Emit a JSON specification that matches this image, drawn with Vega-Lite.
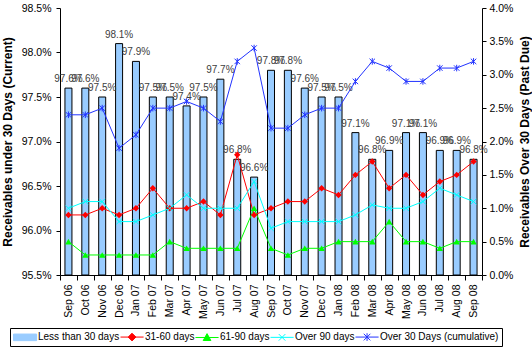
{
  "$schema": "https://vega.github.io/schema/vega-lite/v6.json",
  "autosize": {"type": "none"},
  "padding": {"left": 60, "top": 8, "right": 50, "bottom": 72},
  "width": 422,
  "height": 267,
  "background": "white",
  "config": {
    "view": {"stroke": null},
    "font": "Liberation Sans",
    "axis": {
      "domainColor": "black",
      "tickColor": "black",
      "labelColor": "black",
      "titleColor": "black",
      "labelFont": "Liberation Sans",
      "titleFont": "Liberation Sans",
      "labelFontSize": 10.5,
      "titleFontSize": 12,
      "titleFontWeight": "bold",
      "grid": false,
      "tickSize": 4
    },
    "legend": {
      "orient": "none",
      "legendX": -50,
      "legendY": 320,
      "direction": "horizontal",
      "columns": 5,
      "symbolSize": 121,
      "labelOffset": 13,
      "columnPadding": -2,
      "padding": 3,
      "strokeColor": "black",
      "fillColor": "white",
      "labelFont": "Liberation Sans",
      "labelFontSize": 10,
      "labelColor": "black"
    }
  },
  "data": {
    "values": [
      {"m": "Sep 06", "Less than 30 days": 0.976, "31-60 days": 0.009, "61-90 days": 0.005, "Over 90 days": 0.010, "Over 30 Days (cumulative)": 0.024},
      {"m": "Oct 06", "Less than 30 days": 0.976, "31-60 days": 0.009, "61-90 days": 0.003, "Over 90 days": 0.011, "Over 30 Days (cumulative)": 0.024},
      {"m": "Nov 06", "Less than 30 days": 0.975, "31-60 days": 0.010, "61-90 days": 0.003, "Over 90 days": 0.011, "Over 30 Days (cumulative)": 0.025},
      {"m": "Dec 06", "Less than 30 days": 0.981, "31-60 days": 0.009, "61-90 days": 0.003, "Over 90 days": 0.008, "Over 30 Days (cumulative)": 0.019},
      {"m": "Jan 07", "Less than 30 days": 0.979, "31-60 days": 0.010, "61-90 days": 0.003, "Over 90 days": 0.008, "Over 30 Days (cumulative)": 0.021},
      {"m": "Feb 07", "Less than 30 days": 0.975, "31-60 days": 0.013, "61-90 days": 0.003, "Over 90 days": 0.009, "Over 30 Days (cumulative)": 0.025},
      {"m": "Mar 07", "Less than 30 days": 0.975, "31-60 days": 0.010, "61-90 days": 0.005, "Over 90 days": 0.010, "Over 30 Days (cumulative)": 0.025},
      {"m": "Apr 07", "Less than 30 days": 0.974, "31-60 days": 0.010, "61-90 days": 0.004, "Over 90 days": 0.012, "Over 30 Days (cumulative)": 0.026},
      {"m": "May 07", "Less than 30 days": 0.975, "31-60 days": 0.011, "61-90 days": 0.004, "Over 90 days": 0.010, "Over 30 Days (cumulative)": 0.025},
      {"m": "Jun 07", "Less than 30 days": 0.977, "31-60 days": 0.009, "61-90 days": 0.004, "Over 90 days": 0.010, "Over 30 Days (cumulative)": 0.023},
      {"m": "Jul 07", "Less than 30 days": 0.968, "31-60 days": 0.018, "61-90 days": 0.004, "Over 90 days": 0.010, "Over 30 Days (cumulative)": 0.032},
      {"m": "Aug 07", "Less than 30 days": 0.966, "31-60 days": 0.009, "61-90 days": 0.010, "Over 90 days": 0.014, "Over 30 Days (cumulative)": 0.034},
      {"m": "Sep 07", "Less than 30 days": 0.978, "31-60 days": 0.010, "61-90 days": 0.004, "Over 90 days": 0.007, "Over 30 Days (cumulative)": 0.022},
      {"m": "Oct 07", "Less than 30 days": 0.978, "31-60 days": 0.011, "61-90 days": 0.003, "Over 90 days": 0.008, "Over 30 Days (cumulative)": 0.022},
      {"m": "Nov 07", "Less than 30 days": 0.976, "31-60 days": 0.011, "61-90 days": 0.004, "Over 90 days": 0.008, "Over 30 Days (cumulative)": 0.024},
      {"m": "Dec 07", "Less than 30 days": 0.975, "31-60 days": 0.013, "61-90 days": 0.004, "Over 90 days": 0.008, "Over 30 Days (cumulative)": 0.025},
      {"m": "Jan 08", "Less than 30 days": 0.975, "31-60 days": 0.012, "61-90 days": 0.005, "Over 90 days": 0.008, "Over 30 Days (cumulative)": 0.025},
      {"m": "Feb 08", "Less than 30 days": 0.971, "31-60 days": 0.015, "61-90 days": 0.005, "Over 90 days": 0.009, "Over 30 Days (cumulative)": 0.029},
      {"m": "Mar 08", "Less than 30 days": 0.968, "31-60 days": 0.017, "61-90 days": 0.005, "Over 90 days": 0.0105, "Over 30 Days (cumulative)": 0.032},
      {"m": "Apr 08", "Less than 30 days": 0.969, "31-60 days": 0.013, "61-90 days": 0.008, "Over 90 days": 0.010, "Over 30 Days (cumulative)": 0.031},
      {"m": "May 08", "Less than 30 days": 0.971, "31-60 days": 0.015, "61-90 days": 0.005, "Over 90 days": 0.010, "Over 30 Days (cumulative)": 0.029},
      {"m": "Jun 08", "Less than 30 days": 0.971, "31-60 days": 0.012, "61-90 days": 0.005, "Over 90 days": 0.011, "Over 30 Days (cumulative)": 0.029},
      {"m": "Jul 08", "Less than 30 days": 0.969, "31-60 days": 0.014, "61-90 days": 0.004, "Over 90 days": 0.013, "Over 30 Days (cumulative)": 0.031},
      {"m": "Aug 08", "Less than 30 days": 0.969, "31-60 days": 0.015, "61-90 days": 0.005, "Over 90 days": 0.012, "Over 30 Days (cumulative)": 0.031},
      {"m": "Sep 08", "Less than 30 days": 0.968, "31-60 days": 0.017, "61-90 days": 0.005, "Over 90 days": 0.011, "Over 30 Days (cumulative)": 0.032}
    ]
  },
  "encoding": {
    "x": {
      "field": "m",
      "type": "ordinal",
      "sort": null,
      "scale": {"paddingInner": 0, "paddingOuter": 0},
      "axis": {
        "title": null,
        "labelAngle": -90,
        "tickBand": "extent",
        "labelPadding": 4,
        "tickSize": 5,
        "labelFontSize": 10.5
      }
    }
  },
  "layer": [
    {
      "encoding": {
        "y": {
          "field": "Less than 30 days",
          "type": "quantitative",
          "scale": {"domain": [0.955, 0.985], "zero": false, "nice": false},
          "axis": {
            "orient": "left",
            "values": [0.955, 0.96, 0.965, 0.97, 0.975, 0.98, 0.985],
            "format": ".1%",
            "labelPadding": 5,
            "title": "Receivables under 30 Days (Current)",
            "titlePadding": 7
          }
        }
      },
      "layer": [
        {
          "mark": {"type": "bar", "size": 7, "stroke": "black", "strokeWidth": 1},
          "encoding": {
            "y2": {"datum": 0.955},
            "color": {
              "datum": "Less than 30 days",
              "title": null,
              "scale": {
                "domain": ["Less than 30 days", "31-60 days", "61-90 days", "Over 90 days", "Over 30 Days (cumulative)"],
                "range": ["#99CCFF", "#FF0000", "#00FF00", "#00FFFF", "#2233FF"]
              },
              "legend": {
                "title": null,
                "encode": {
                  "symbols": {
                    "update": {
                      "shape": {"signal": "datum.value === 'Less than 30 days' ? 'M-1,-0.6H3.2V0.6H-1Z' : datum.value === '31-60 days' ? 'M-1,0H3.2M1.1,-0.7L1.8,0L1.1,0.7L0.4,0Z' : datum.value === '61-90 days' ? 'M-1,0H3.2M1.1,-0.7L1.8,0.55L0.4,0.55Z' : datum.value === 'Over 90 days' ? 'M-1,0H3.2M0.5,-0.6L1.7,0.6M0.5,0.6L1.7,-0.6' : 'M-1,0H3.2M0.5,-0.6L1.7,0.6M0.5,0.6L1.7,-0.6M1.1,-0.7L1.1,0.7'"},
                      "fill": {"signal": "datum.value === 'Less than 30 days' ? '#99CCFF' : datum.value === '31-60 days' ? '#FF0000' : datum.value === '61-90 days' ? '#00FF00' : 'transparent'"},
                      "stroke": {"signal": "datum.value === 'Less than 30 days' ? 'black' : datum.value === '31-60 days' ? '#FF0000' : datum.value === '61-90 days' ? '#00FF00' : datum.value === 'Over 90 days' ? '#00FFFF' : '#2233FF'"},
                      "strokeWidth": {"value": 1},
                      "opacity": {"value": 1},
                      "fillOpacity": {"value": 1}
                    }
                  }
                }
              }
            }
          }
        },
        {
          "mark": {"type": "text", "dy": -9, "fontSize": 10, "font": "Liberation Sans", "color": "#404040"},
          "encoding": {
            "text": {"field": "Less than 30 days", "type": "quantitative", "format": ".1%"}
          }
        }
      ]
    },
    {
      "transform": [
        {"fold": ["31-60 days", "61-90 days", "Over 90 days", "Over 30 Days (cumulative)"], "as": ["series", "value"]}
      ],
      "encoding": {
        "y": {
          "field": "value",
          "type": "quantitative",
          "scale": {"domain": [0, 0.04], "nice": false},
          "axis": {
            "orient": "right",
            "values": [0, 0.005, 0.01, 0.015, 0.02, 0.025, 0.03, 0.035, 0.04],
            "format": ".1%",
            "labelPadding": 3,
            "title": "Receivables Over 30 Days (Past Due)",
            "titleAngle": 270,
            "titlePadding": 19
          }
        },
        "color": {
          "field": "series",
          "type": "nominal",
          "title": null,
          "legend": {
            "title": null,
            "encode": {
              "symbols": {
                "update": {
                  "shape": {"signal": "datum.value === 'Less than 30 days' ? 'M-1,-0.6H3.2V0.6H-1Z' : datum.value === '31-60 days' ? 'M-1,0H3.2M1.1,-0.7L1.8,0L1.1,0.7L0.4,0Z' : datum.value === '61-90 days' ? 'M-1,0H3.2M1.1,-0.7L1.8,0.55L0.4,0.55Z' : datum.value === 'Over 90 days' ? 'M-1,0H3.2M0.5,-0.6L1.7,0.6M0.5,0.6L1.7,-0.6' : 'M-1,0H3.2M0.5,-0.6L1.7,0.6M0.5,0.6L1.7,-0.6M1.1,-0.7L1.1,0.7'"},
                  "fill": {"signal": "datum.value === 'Less than 30 days' ? '#99CCFF' : datum.value === '31-60 days' ? '#FF0000' : datum.value === '61-90 days' ? '#00FF00' : 'transparent'"},
                  "stroke": {"signal": "datum.value === 'Less than 30 days' ? 'black' : datum.value === '31-60 days' ? '#FF0000' : datum.value === '61-90 days' ? '#00FF00' : datum.value === 'Over 90 days' ? '#00FFFF' : '#2233FF'"},
                  "strokeWidth": {"value": 1},
                  "opacity": {"value": 1},
                  "fillOpacity": {"value": 1}
                }
              }
            }
          }
        }
      },
      "layer": [
        {
          "mark": {"type": "line", "strokeWidth": 1}
        },
        {
          "transform": [{"filter": "datum.series === '31-60 days' || datum.series === '61-90 days'"}],
          "mark": {"type": "point", "filled": true, "size": 42, "opacity": 1},
          "encoding": {
            "shape": {
              "field": "series",
              "type": "nominal",
              "scale": {
                "domain": ["31-60 days", "61-90 days", "Over 90 days", "Over 30 Days (cumulative)"],
                "range": ["diamond", "triangle-up", "M-1,-1L1,1M-1,1L1,-1", "M-1,-1L1,1M-1,1L1,-1M0,-1.2L0,1.2"]
              },
              "legend": null
            }
          }
        },
        {
          "transform": [{"filter": "datum.series === 'Over 90 days' || datum.series === 'Over 30 Days (cumulative)'"}],
          "mark": {"type": "point", "filled": false, "size": 30, "strokeWidth": 1, "opacity": 1},
          "encoding": {
            "shape": {"field": "series", "type": "nominal", "legend": null}
          }
        }
      ]
    }
  ],
  "resolve": {"scale": {"y": "independent"}}
}
